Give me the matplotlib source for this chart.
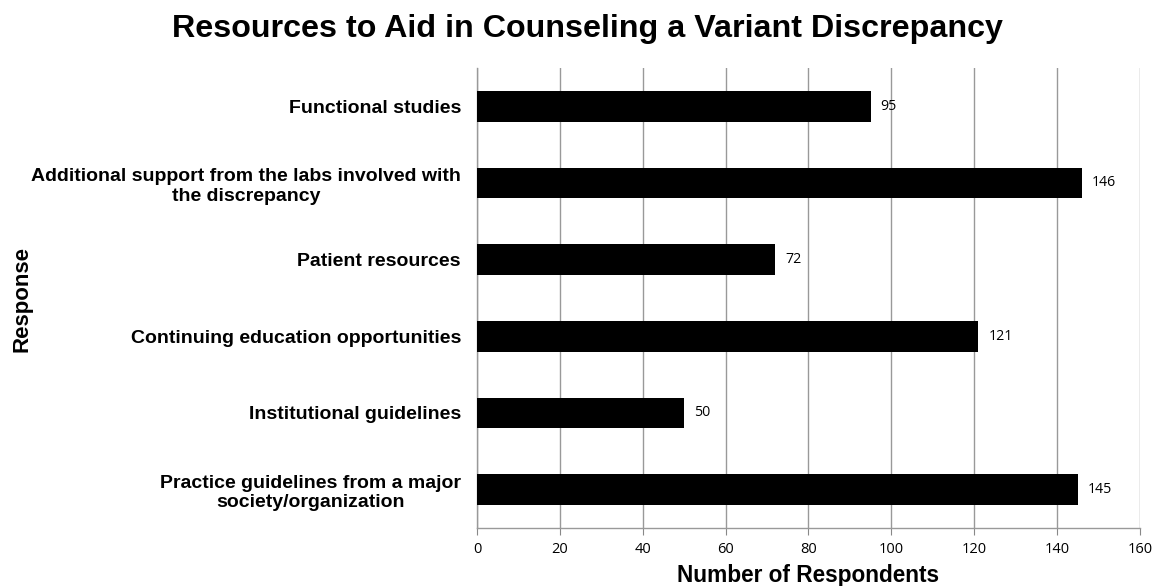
import numpy as np
import matplotlib.pyplot as plt

responses = [
    "Functional studies",
    "Additional support from the labs involved with\nthe discrepancy",
    "Patient resources",
    "Continuing education opportunities",
    "Institutional guidelines",
    "Practice guidelines from a major\nsociety/organization",
]
counts = [95, 146, 72, 121, 50, 145]
x_ticks = [0, 20, 40, 60, 80, 100, 120, 140, 160]

plt.rcParams['font.family'] = ['Liberation Sans', 'DejaVu Sans']

fig = plt.figure(figsize=(11.56, 5.86), dpi=100)
ax = fig.add_axes([0.4126, 0.099, 0.5735, 0.785])

y = np.arange(len(responses))
ax.barh(y, counts, height=0.4, color='black', zorder=3)
for yi, c in zip(y, counts):
    ax.text(c + 2.4, yi, str(c), va='center', ha='left', fontsize=10.2,
            family=['Open Sans', 'DejaVu Sans'])

ax.set_ylim(len(responses) - 0.5, -0.5)
ax.set_xlim(0, 160)
ax.set_xticks(x_ticks)
ax.set_xticklabels([str(t) for t in x_ticks], family=['Open Sans', 'DejaVu Sans'], fontsize=10.5)
ax.set_yticks(y)
ax.set_yticklabels(responses, fontsize=14, fontweight='bold', ha='right',
                   multialignment='center')
ax.tick_params(axis='y', length=0, pad=11.5)
ax.tick_params(axis='x', length=5, color='#888888', direction='out', pad=5)

ax.grid(axis='x', color='#999999', linewidth=1, zorder=0)
for side in ['top', 'right']:
    ax.spines[side].set_visible(False)
for side in ['left', 'bottom']:
    ax.spines[side].set_color('#999999')
    ax.spines[side].set_linewidth(1)

ax.set_xlabel("Number of Respondents", fontsize=16.3, fontweight='bold', labelpad=5)
fig.text(0.019, 0.49, "Response", rotation=90, va='center', ha='center',
         fontsize=16, fontweight='bold')
fig.suptitle("Resources to Aid in Counseling a Variant Discrepancy",
             fontsize=23.2, fontweight='bold', x=0.508, y=0.976)

fig.savefig("out.png", dpi=100)
